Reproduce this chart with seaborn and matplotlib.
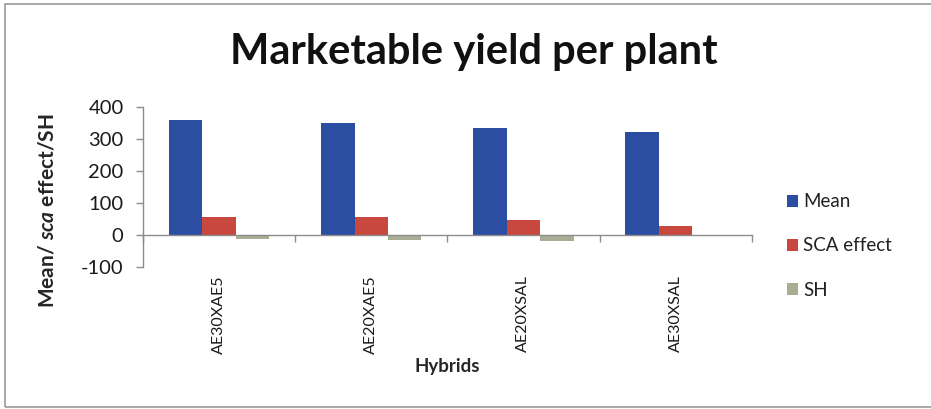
import matplotlib
matplotlib.use("Agg")
import matplotlib.pyplot as plt
import seaborn as sns
import pandas as pd
from matplotlib.patches import Rectangle

# Hybrid combinations and their per-plant marketable yield statistics
hybrids = ["AE30XAE5", "AE20XAE5", "AE20XSAL", "AE30XSAL"]
mean_vals = [360, 352, 334, 322]
sca_vals = [57, 55, 47, 28]
sh_vals = [-13, -15, -18, -2]
series = ["Mean", "SCA effect", "SH"]
yticks = [-100, 0, 100, 200, 300, 400]

colors = ["#2b4ea2", "#c8473f", "#a9ad93"]

df = pd.DataFrame({
    "Hybrid": hybrids * 3,
    "Series": [series[0]] * 4 + [series[1]] * 4 + [series[2]] * 4,
    "Value": mean_vals + sca_vals + sh_vals,
})

sns.set_theme(style="white")
plt.rcParams["font.family"] = ["Lato", "DejaVu Sans"]
plt.rcParams["mathtext.fontset"] = "custom"
plt.rcParams["mathtext.it"] = "Lato:bold:italic"
plt.rcParams["mathtext.rm"] = "Lato:bold"

fig = plt.figure(figsize=(9.31, 4.09), dpi=100)
ax = fig.add_axes([0.1536, 0.3479, 0.8074 - 0.1536, 0.7377 - 0.3479])

sns.barplot(data=df, x="Hybrid", y="Value", hue="Series", palette=colors,
            width=0.66, gap=0, saturation=1, ax=ax, legend=True, edgecolor="none")

ax.set_xlim(-0.5, 3.5)
ax.set_ylim(-100, 400)
ax.set_yticks(yticks)
ax.set_yticklabels([str(v) for v in yticks], fontsize=14.5, color="#1a1a1a")

axis_col = "#8c8c8c"
for s in ["top", "right"]:
    ax.spines[s].set_visible(False)
ax.spines["left"].set_color(axis_col)
ax.spines["left"].set_linewidth(1.0)
ax.spines["bottom"].set_position(("data", 0))
ax.spines["bottom"].set_color(axis_col)
ax.spines["bottom"].set_linewidth(1.0)

ax.tick_params(axis="y", which="major", direction="out", length=5, width=1,
               color=axis_col, pad=9, left=True)
ax.set_xticks(range(len(hybrids)))
ax.set_xticklabels(hybrids, rotation=90, fontsize=11.5, color="#1a1a1a",
                   va="top")
ax.tick_params(axis="x", which="major", length=0, pad=29, bottom=True)
ax.set_xticks([-0.5, 0.5, 1.5, 2.5, 3.5], minor=True)
ax.tick_params(axis="x", which="minor", direction="out", length=5, width=1,
               color=axis_col, bottom=True)

ax.set_xlabel("Hybrids", fontsize=13.5, fontweight="bold", va="center")
ax.xaxis.set_label_coords(0.5, -(366 - 266.7) / 159.4)
ax.set_ylabel("Mean/ $sca$ effect/SH", fontsize=15, fontweight="bold",
              va="center")
ax.yaxis.set_label_coords(-(143 - 47) / 608.7, (266.7 - 211) / 159.4)

fig.text(0.509, 0.873, "Marketable yield per plant", fontsize=30,
         fontweight="bold", ha="center", va="center", color="#111111")

leg = ax.legend(loc="center left", bbox_to_anchor=(1.045, 0.13), frameon=False,
                fontsize=13.5, handlelength=0.6, handleheight=0.6,
                handletextpad=0.3, labelspacing=1.45, borderaxespad=0.0)
for t in leg.get_texts():
    t.set_color("#222222")

fig.patches.append(Rectangle((5 / 931, 2 / 409), 1.0, 1 - 6 / 409,
                             transform=fig.transFigure, fill=False,
                             edgecolor="#9a9a9a", linewidth=1.2))

fig.savefig("out.png", dpi=100)
